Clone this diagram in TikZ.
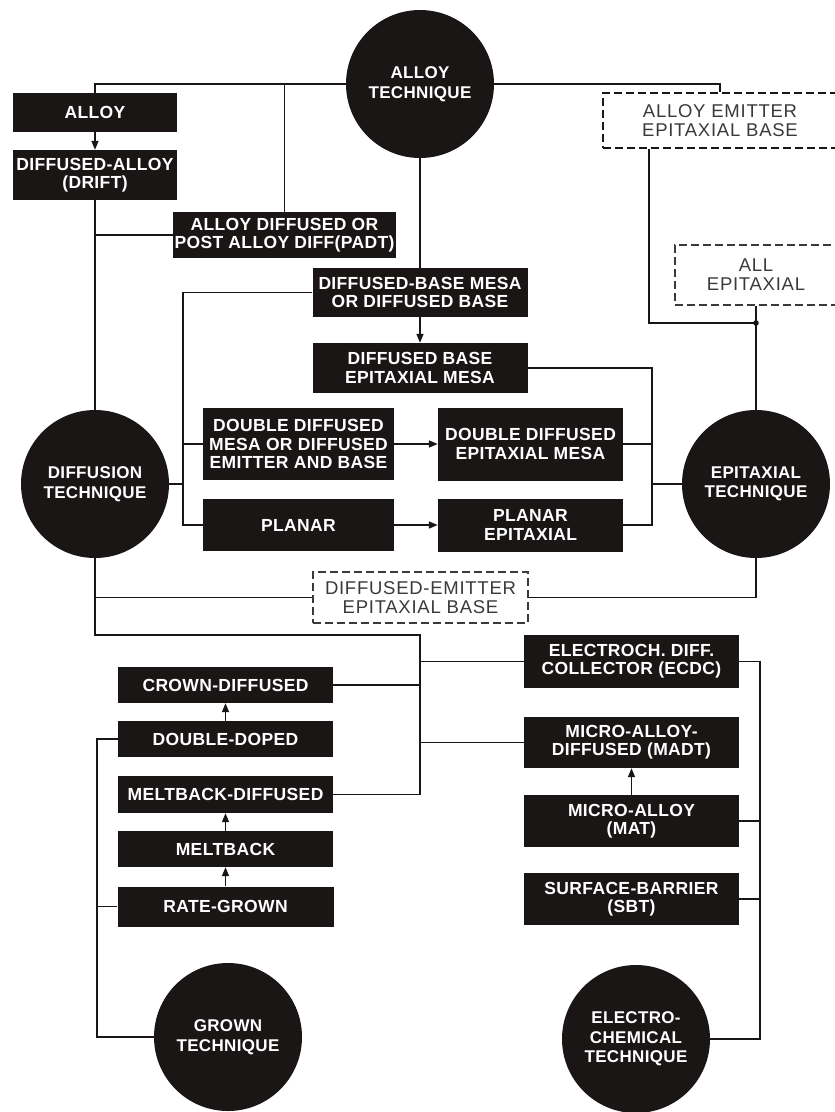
\documentclass[tikz,border=0pt]{standalone}
\usepackage{fontspec}
\setmainfont{Liberation Sans}
\newfontfamily\lbl[LetterSpace=2]{Liberation Sans}
\newfontfamily\lbw[LetterSpace=4]{Liberation Sans}
\usetikzlibrary{arrows.meta}
\definecolor{ink}{HTML}{1B1616}
\definecolor{dashink}{HTML}{3A3A3A}
\begin{document}
\begin{tikzpicture}[x=1pt,y=-1pt,
  sz/.style 2 args={minimum width=#1pt,minimum height=#2pt},
  blk/.style={draw=none,fill=ink,text=white,inner sep=0pt,align=center,
    font=\lbl\bfseries\fontsize{17.5}{18.3}\selectfont},
  dbox/.style={draw=dashink,dash pattern=on 8pt off 4pt,line width=1.3pt,fill=white,
    text=dashink,inner sep=0pt,align=center,font=\lbw\fontsize{18.5}{19}\selectfont},
  tech/.style={circle,fill=ink,text=white,minimum size=148pt,inner sep=0pt,align=center,
    font=\lbl\bfseries\fontsize{17}{19.5}\selectfont},
  conn/.style={line width=1.6pt,draw=ink},
  arr/.style={conn,-{Triangle[length=9pt,width=7pt]}}]
\useasboundingbox (0,0) rectangle (835,1112);
\clip (0,0) rectangle (835,1112);
\fill[white] (0,0) rectangle (835,1112);

% technique circles
\node[tech] (alloyT) at (420,84) {ALLOY\\TECHNIQUE};
\node[tech] (diffT) at (95,484) {DIFFUSION\\TECHNIQUE};
\node[tech] (epiT) at (756,484) {EPITAXIAL\\TECHNIQUE};
\node[tech] (grownT) at (228,1037) {GROWN\\TECHNIQUE};
\node[tech] (echemT) at (636,1039) {ELECTRO-\\CHEMICAL\\TECHNIQUE};

% black boxes
\node[blk,sz={164}{39}] (alloy) at (95,112.5) {ALLOY};
\node[blk,sz={164}{50}] (drift) at (95,175) {DIFFUSED-ALLOY\\(DRIFT)};
\node[blk,sz={223}{46}] (padt) at (284.5,235) {ALLOY DIFFUSED OR\\POST ALLOY DIFF(PADT)};
\node[blk,sz={215}{49}] (dbm) at (420,292.5) {DIFFUSED-BASE MESA\\OR DIFFUSED BASE};
\node[blk,sz={215}{50}] (dbem) at (420,368) {DIFFUSED BASE\\EPITAXIAL MESA};
\node[blk,sz={191}{72}] (ddm) at (298.5,444) {DOUBLE DIFFUSED\\MESA OR DIFFUSED\\EMITTER AND BASE};
\node[blk,sz={185}{73}] (ddem) at (530.5,444) {DOUBLE DIFFUSED\\EPITAXIAL MESA};
\node[blk,sz={191}{52}] (planar) at (298.5,525) {PLANAR};
\node[blk,sz={185}{53}] (planep) at (530.5,525) {PLANAR\\EPITAXIAL};

\node[blk,sz={215}{36}] (crown) at (225.5,685) {CROWN-DIFFUSED};
\node[blk,sz={215}{36}] (ddoped) at (225.5,739) {DOUBLE-DOPED};
\node[blk,sz={215}{37}] (mbd) at (225.5,794.5) {MELTBACK-DIFFUSED};
\node[blk,sz={215}{36}] (mb) at (225.5,849) {MELTBACK};
\node[blk,sz={216}{40}] (rg) at (225.5,906.5) {RATE-GROWN};

\node[blk,sz={215}{53}] (ecdc) at (631.5,661.5) {ELECTROCH. DIFF.\\COLLECTOR (ECDC)};
\node[blk,sz={215}{51}] (madt) at (631.5,742.5) {MICRO-ALLOY-\\DIFFUSED (MADT)};
\node[blk,sz={215}{52}] (mat) at (631.5,821) {MICRO-ALLOY\\(MAT)};
\node[blk,sz={215}{52}] (sbt) at (631.5,899) {SURFACE-BARRIER\\(SBT)};

% dashed boxes
\node[dbox,sz={215}{51}] (deeb) at (420.5,597.5) {DIFFUSED-EMITTER\\EPITAXIAL BASE};
\node[dbox,sz={234}{55},line width=1.9pt,draw=ink] (aeeb) at (720,120.5) {ALLOY EMITTER\\EPITAXIAL BASE};
\node[dbox,sz={162}{60}] (allepi) at (756,275) {ALL\\EPITAXIAL};

% connectors: alloy technique
\draw[conn] (alloyT.west) -| (alloy.north);
\draw[conn] (padt.north) -- (padt.north |- alloyT.west);
\draw[conn] (alloyT.east) -| (aeeb.north);
\draw[arr] (alloy.south) -- (drift.north);
\draw[conn] (drift.south) -- (diffT.north);
\draw[conn] (padt.west) -- (padt.west -| drift.south);
\draw[conn] (alloyT.south) -- (dbm.north);
\draw[arr] (dbm.south) -- (dbem.north);

% diffusion bus
\coordinate (busL) at (183,0);
\draw[conn] (dbm.west) -| (busL |- planar.west) -- (planar.west);
\draw[conn] (ddm.west) -- (ddm.west -| busL);
\draw[conn] (diffT.east) -- (diffT.east -| busL);
\draw[arr] (ddm.east) -- (ddem.west);
\draw[arr] (planar.east) -- (planep.west);

% epitaxial bus
\coordinate (busR) at (652,0);
\draw[conn] (dbem.east) -| (busR |- planep.east) -- (planep.east);
\draw[conn] (ddem.east) -- (ddem.east -| busR);
\draw[conn] (epiT.west) -- (epiT.west -| busR);
\coordinate (dot) at (756,323);
\draw[conn] ([xshift=47pt]aeeb.south west) |- (dot);
\draw[conn] (allepi.south) -- (epiT.north);
\fill[ink] (dot) circle (2.8pt);

% diffused-emitter epitaxial base
\draw[conn] (deeb.west) -- (deeb.west -| diffT.south);
\draw[conn] (deeb.east) -| (epiT.south);

% diffusion down to middle bus
\coordinate (jD) at (420,635);
\draw[conn] (diffT.south) |- (jD) |- (mbd.east);
\draw[conn] (crown.east) -- (crown.east -| jD);
\draw[conn] (ecdc.west) -- (ecdc.west -| jD);
\draw[conn] (madt.west) -- (madt.west -| jD);

% grown technique
\coordinate (busG) at (97,0);
\draw[conn] (ddoped.west) -| (busG |- grownT.west) -- (grownT.west);
\draw[conn] (rg.west) -- (rg.west -| busG);
\draw[arr] (ddoped.north) -- (crown.south);
\draw[arr] (mb.north) -- (mbd.south);
\draw[arr] (rg.north) -- (mb.south);

% electrochemical technique
\coordinate (busE) at (760,0);
\draw[conn] (ecdc.east) -| (busE |- echemT.east) -- (echemT.east);
\draw[conn] (mat.east) -- (mat.east -| busE);
\draw[conn] (sbt.east) -- (sbt.east -| busE);
\draw[arr] (mat.north) -- (madt.south);
\end{tikzpicture}
\end{document}
